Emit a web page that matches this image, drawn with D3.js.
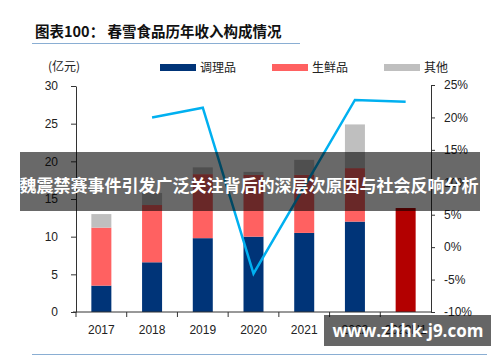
<!DOCTYPE html>
<html>
<head>
<meta charset="utf-8">
<script src="https://cdn.jsdelivr.net/npm/d3@7"></script>
<style>
  body { margin: 0; background: #fff; }
  svg { display: block; }
  .cjk { font-family: "Noto Sans CJK SC", sans-serif; }
  .num { font-family: "Liberation Sans", Arial, sans-serif; }
</style>
</head>
<body>
<div id="chart"></div>
<script>
// categories and values
const years = ['2017', '2018', '2019', '2020', '2021', '2022', '2023H1']
const prepared = [3.5, 6.6, 9.8, 10.0, 10.5, 12.0, null]     // 调理品
const fresh = [7.7, 7.6, 8.5, 8.2, 7.7, 7.1, null]           // 生鲜品
const others = [1.8, 1.6, 0.9, 0.4, 2.0, 5.8, null]          // 其他
const h1Total = [null, null, null, null, null, null, 13.8]    // 2023H1 收入
const growth = [null, 20.0, 21.5, -4.1, 9.3, 22.7, 22.4]     // 收入增速 %
const leftTicks = [0, 5, 10, 15, 20, 25, 30]
const rightTicks = [-10, -5, 0, 5, 10, 15, 20, 25]
const seriesNames = ['调理品', '生鲜品', '其他']

const colors = {
  '调理品': '#003478',
  '生鲜品': '#ff6161',
  '其他': '#bfbfbf',
  h1: '#b30000',
  line: '#00b0f0',
  rule: '#8aaed3'
}

const width = 500, height = 362
const plot = { left: 76, right: 431, top: 86, bottom: 312 }

const svg = d3.select('#chart').append('svg')
  .attr('width', width)
  .attr('height', height)

// title + rule
svg.append('text')
  .attr('class', 'cjk')
  .attr('x', 35).attr('y', 37)
  .attr('font-size', '14.5px')
  .attr('font-weight', 700)
  .attr('fill', '#111')
  .text('图表100：  春雪食品历年收入构成情况')
svg.append('line')
  .attr('x1', 32).attr('x2', 300).attr('y1', 43.5).attr('y2', 43.5)
  .attr('stroke', colors.rule).attr('stroke-width', 1.2)

svg.append('text')
  .attr('class', 'cjk')
  .attr('x', 48).attr('y', 71)
  .attr('font-size', '12px')
  .attr('fill', '#222')
  .text('(亿元)')

// legend
const legendX = [160, 272, 384]
seriesNames.forEach((name, i) => {
  svg.append('rect')
    .attr('x', legendX[i]).attr('y', 64)
    .attr('width', 36).attr('height', 7)
    .attr('fill', colors[name])
  svg.append('text')
    .attr('class', 'cjk')
    .attr('x', legendX[i] + 40).attr('y', 72)
    .attr('font-size', '12px')
    .attr('fill', '#222')
    .text(name)
})

// scales
const x = d3.scaleBand().domain(years).range([plot.left, plot.right])
const y = d3.scaleLinear().domain([0, 30]).range([plot.bottom, plot.top])
const yRight = d3.scaleLinear().domain([-10, 25]).range([plot.bottom, plot.top - 1])
const barWidth = 20

// stacked bars
const rows = years.map((yr, i) => ({
  year: yr,
  '调理品': prepared[i] || 0,
  '生鲜品': fresh[i] || 0,
  '其他': others[i] || 0
}))
const stacked = d3.stack().keys(seriesNames)(rows)

svg.append('g')
  .selectAll('g')
  .data(stacked)
  .enter()
  .append('g')
  .attr('fill', d => colors[d.key])
  .selectAll('rect')
  .data(d => d.filter(p => p[1] > p[0]))
  .enter()
  .append('rect')
  .attr('x', d => x(d.data.year) + x.bandwidth() / 2 - barWidth / 2)
  .attr('width', barWidth)
  .attr('y', d => y(d[1]))
  .attr('height', d => y(d[0]) - y(d[1]))

// 2023H1 single bar
svg.append('g')
  .selectAll('rect')
  .data(years.map((yr, i) => ({ year: yr, v: h1Total[i] })).filter(d => d.v !== null))
  .enter()
  .append('rect')
  .attr('x', d => x(d.year) + x.bandwidth() / 2 - barWidth / 2)
  .attr('width', barWidth)
  .attr('y', d => y(d.v))
  .attr('height', d => y(0) - y(d.v))
  .attr('fill', colors.h1)

// axes
const leftAxis = svg.append('g')
  .attr('class', 'num')
  .attr('transform', `translate(${plot.left},0)`)
  .call(d3.axisLeft(y).tickValues(leftTicks).tickSize(5).tickSizeOuter(0).tickPadding(13))
const rightAxis = svg.append('g')
  .attr('class', 'num')
  .attr('transform', `translate(${plot.right},0)`)
  .call(d3.axisRight(yRight).tickValues(rightTicks).tickFormat(d => d + '%').tickSize(4).tickSizeOuter(0).tickPadding(9))

const bottomAxis = svg.append('g')
  .attr('class', 'num')
  .attr('transform', `translate(0,${plot.bottom})`)
  .call(d3.axisBottom(x).tickSize(0).tickPadding(13))
bottomAxis.select('.domain').attr('d', `M${plot.left - 3},0H${plot.right}`)
// ticks between categories
bottomAxis.selectAll('.sep')
  .data(years.map(yr => x(yr)))
  .enter()
  .append('line')
  .attr('class', 'sep')
  .attr('x1', d => d).attr('x2', d => d)
  .attr('y1', 0).attr('y2', 5)
  .attr('stroke', '#333')

;[leftAxis, rightAxis, bottomAxis].forEach(g => {
  g.selectAll('text').attr('font-size', '12px').attr('fill', '#222')
  g.selectAll('.domain, .tick line').attr('stroke', '#333')
})

// growth line
const line = d3.line()
  .defined(d => d.v !== null)
  .x(d => x(d.year) + x.bandwidth() / 2)
  .y(d => yRight(d.v))
svg.append('path')
  .datum(years.map((yr, i) => ({ year: yr, v: growth[i] })))
  .attr('d', line)
  .attr('fill', 'none')
  .attr('stroke', colors.line)
  .attr('stroke-width', 2.5)
  .attr('stroke-linejoin', 'miter')

// bottom rule
svg.append('line')
  .attr('x1', 32).attr('x2', 487).attr('y1', 354.5).attr('y2', 354.5)
  .attr('stroke', colors.rule).attr('stroke-width', 1.2)

// banner overlay
svg.append('rect')
  .attr('x', 20).attr('y', 152)
  .attr('width', 460).attr('height', 59)
  .attr('fill', '#000').attr('fill-opacity', 0.59)
svg.append('text')
  .attr('class', 'cjk')
  .attr('x', 249).attr('y', 192)
  .attr('text-anchor', 'middle')
  .attr('font-size', '17px')
  .attr('font-weight', 700)
  .attr('fill', '#fff')
  .text('魏震禁赛事件引发广泛关注背后的深层次原因与社会反响分析')

// watermark box
svg.append('rect')
  .attr('x', 324).attr('y', 315)
  .attr('width', 167).attr('height', 31)
  .attr('fill', '#000').attr('fill-opacity', 0.6)
svg.append('text')
  .attr('font-family', '"Open Sans", "DejaVu Sans", sans-serif')
  .attr('x', 408).attr('y', 337)
  .attr('text-anchor', 'middle')
  .attr('font-size', '17px')
  .attr('font-weight', 700)
  .attr('fill', '#fff')
  .text('www.zhhk-j9.com')
</script>
</body>
</html>
